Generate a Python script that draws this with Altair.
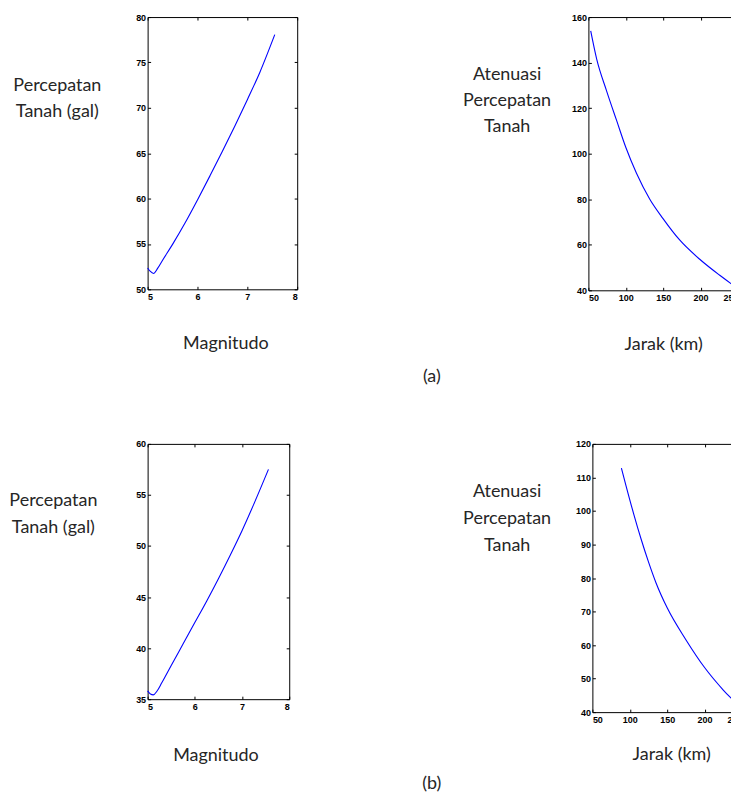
import altair as alt
import pandas as pd

# ---- data ----
# (a) left: Magnitudo vs Percepatan Tanah (gal)
mag_a = [5.0, 5.05, 5.12, 5.2, 5.3, 5.5, 5.75, 6.0, 6.25, 6.5, 6.75, 7.0, 7.25, 7.55]
pga_a = [52.35, 52.0, 51.75, 52.3, 53.2, 54.95, 57.3, 59.85, 62.5, 65.2, 68.0, 70.9, 73.9, 78.06]
# (a) right: Jarak (km) vs Atenuasi Percepatan Tanah
jarak_a = [53.1, 61.1, 74.4, 87.7, 100.1, 114.3, 132.1, 149.8, 172.0, 200.0, 225.2, 246.5, 250]
aten_a = [153.9, 141.5, 127.5, 114.6, 102.7, 91.4, 80.0, 71.5, 62.1, 53.3, 46.7, 41.6, 40.8]
# (b) left
mag_b = [5.0, 5.06, 5.12, 5.2, 5.3, 5.5, 5.75, 6.0, 6.25, 6.5, 6.75, 7.0, 7.25, 7.56]
pga_b = [35.81, 35.5, 35.42, 35.8, 36.6, 38.3, 40.4, 42.5, 44.6, 46.8, 49.1, 51.5, 54.1, 57.5]
# (b) right
jarak_b = [88.8, 95, 105, 115, 125, 135, 150, 175, 200, 225, 250]
aten_b = [112.8, 107.5, 99.3, 91.7, 84.8, 78.6, 71.1, 61.6, 53.3, 46.6, 41.0]

mag_ticks = [5, 6, 7, 8]
jarak_ticks = [50, 100, 150, 200, 250]
pga_a_ticks = [50, 55, 60, 65, 70, 75, 80]
aten_a_ticks = [40, 60, 80, 100, 120, 140, 160]
pga_b_ticks = [35, 40, 45, 50, 55, 60]
aten_b_ticks = [40, 50, 60, 70, 80, 90, 100, 110, 120]

TXT = "#262626"


def panel(xs, ys, xdom, ydom, xvals, yvals, w, h, xtitle, xtx, xty, ytitle, ytx, yty, ylh):
    df = pd.DataFrame({"x": xs, "y": ys})
    xs_ = alt.Scale(domain=xdom, nice=False, zero=False)
    ys_ = alt.Scale(domain=ydom, nice=False, zero=False)
    main = alt.Chart(df).mark_line(color="#0000ff", strokeWidth=1.1, interpolate="monotone").encode(
        x=alt.X("x:Q", scale=xs_, axis=alt.Axis(
            values=xvals, orient="bottom", offset=-3, tickSize=3, domain=False, grid=False,
            labelPadding=3, title=xtitle, titleX=xtx, titleY=xty, titleAlign="center",
            titleBaseline="middle")),
        y=alt.Y("y:Q", scale=ys_, axis=alt.Axis(
            values=yvals, orient="left", offset=-3, tickSize=3, domain=False, grid=False,
            labelPadding=2, title=ytitle, titleAngle=0, titleX=ytx, titleY=yty,
            titleAlign="center", titleBaseline="middle", titleLineHeight=ylh)),
    )
    mirror = alt.Chart(df).mark_line(opacity=0).encode(
        x=alt.X("x:Q", scale=xs_, axis=alt.Axis(
            values=xvals, orient="top", offset=-3, tickSize=3, domain=False, grid=False,
            labels=False, title=None)),
        y=alt.Y("y:Q", scale=ys_, axis=alt.Axis(
            values=yvals, orient="right", offset=-3, tickSize=3, domain=False, grid=False,
            labels=False, title=None)),
    )
    return alt.layer(main, mirror).resolve_axis(x="independent", y="independent").properties(
        width=w, height=h)


A = panel(mag_a, pga_a, [5, 8], [50, 80], mag_ticks, pga_a_ticks, 150, 273,
          "Magnitudo", 78, 57, ["Percepatan", "Tanah (gal)"], -94, 69, 26)
B = panel(jarak_a, aten_a, [50, 250], [40, 160], jarak_ticks, aten_a_ticks, 150, 274,
          "Jarak (km)", 75, 57, ["Atenuasi", "Percepatan", "Tanah"], -85, 58, 26)
C = panel(mag_b, pga_b, [5, 8], [35, 60], mag_ticks, pga_b_ticks, 142, 256,
          "Magnitudo", 68, 59, ["Percepatan", "Tanah (gal)"], -98, 57, 27)
D = panel(jarak_b, aten_b, [50, 250], [40, 120], jarak_ticks, aten_b_ticks, 150, 269,
          "Jarak (km)", 79, 45, ["Atenuasi", "Percepatan", "Tanah"], -89, 48, 27)

row1 = alt.hconcat(A, B, spacing=292, bounds="flush",
                   title=alt.TitleParams("(a)", orient="bottom", anchor="start", frame="group",
                                         align="center", dx=285, offset=14))
row2 = alt.hconcat(C, D, spacing=304, bounds="flush",
                   title=alt.TitleParams("(b)", orient="bottom", anchor="start", frame="group",
                                         align="center", dx=285, offset=11))

chart = alt.vconcat(row1, row2, spacing=428, bounds="flush").properties(
    padding={"left": 0, "top": 3, "right": -14, "bottom": 0}
).configure_view(stroke="black", strokeWidth=1).configure_axis(
    labelFont="Liberation Sans", labelFontSize=9, labelFontWeight="bold", labelColor="black",
    tickColor="black", titleFont="Lato", titleFontSize=18, titleFontWeight="normal", titleColor=TXT
).configure_title(font="Lato", fontSize=18, fontWeight="normal", color=TXT)

chart.save("out.html", embed_options={"renderer": "svg", "actions": False})
